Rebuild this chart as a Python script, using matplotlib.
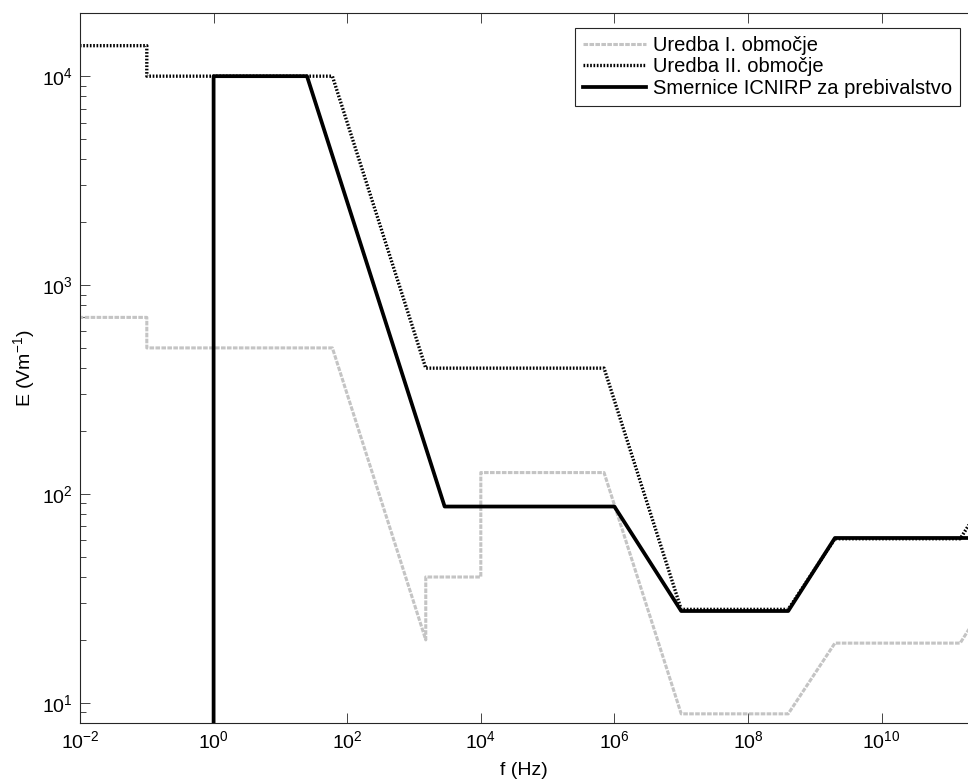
import numpy as np
import matplotlib
matplotlib.use('Agg')
import matplotlib.pyplot as plt
from matplotlib.ticker import FixedLocator, NullLocator, LogLocator, LogFormatterSciNotation, NullFormatter

plt.rcParams['font.family'] = ['Liberation Sans', 'DejaVu Sans']
plt.rcParams['mathtext.fontset'] = 'custom'
plt.rcParams['mathtext.rm'] = 'Liberation Sans'
plt.rcParams['mathtext.it'] = 'Liberation Sans:italic'

# Uredba I. obmocje - break points (f in Hz, E in V/m)
f_obm1 = [1e-3, 0.1, 0.1, 60, 1500, 1500, 1e4, 1e4, 7e5, 1e7, 4e8, 2e9, 1.5e11, 3e11]
e_obm1 = [700, 700, 500, 500, 20, 40, 40, 126.5, 126.5, 8.85, 8.85, 19.3, 19.3, 27.4]

# Uredba II. obmocje
f_obm2 = [1e-3, 0.1, 0.1, 60, 1500, 7e5, 1e7, 4e8, 2e9, 1.5e11, 3e11]
e_obm2 = [14000, 14000, 10000, 10000, 400, 400, 28, 28, 61, 61, 86.5]

# Smernice ICNIRP za prebivalstvo
f_icnirp = [1, 1, 25, 2875, 1e6, 1e7, 4e8, 2e9, 3e11]
e_icnirp = [1, 1e4, 1e4, 87, 87, 27.5, 27.5, 61.5, 61.5]

x_ticks = [1e-2, 1e0, 1e2, 1e4, 1e6, 1e8, 1e10]

fig = plt.figure(figsize=(9.68, 7.8), dpi=100)
ax = fig.add_axes([80 / 968, 1 - 723 / 780, 1 - 80 / 968, (723 - 13.3) / 780])

ax.loglog(f_obm1, e_obm1, color='#c4c4c4', lw=2.2, ls=(0, (1.5, 0.45)),
          label='Uredba I. območje')
ax.loglog(f_obm2, e_obm2, color='black', lw=2.4, ls=(0, (0.5, 0.5)),
          label='Uredba II. območje')
ax.loglog(f_icnirp, e_icnirp, color='black', lw=2.7, ls='-',
          label='Smernice ICNIRP za prebivalstvo')

ax.set_xlim(1e-2, 10 ** (-2 + (968 - 80) / 66.8))
ax.set_ylim(8, 2e4)

ax.xaxis.set_major_locator(FixedLocator(x_ticks))
ax.xaxis.set_major_formatter(LogFormatterSciNotation())
ax.xaxis.set_minor_locator(NullLocator())
ax.yaxis.set_major_locator(LogLocator(base=10))
ax.yaxis.set_minor_locator(LogLocator(base=10, subs=np.arange(2, 10)))
ax.yaxis.set_minor_formatter(NullFormatter())

ax.tick_params(which='both', direction='in', top=True, right=False,
               width=0.6, colors='#262626', labelsize=14, pad=5)
ax.tick_params(which='major', length=7)
ax.tick_params(which='minor', length=4)
for tl in ax.get_xticklabels() + ax.get_yticklabels():
    tl.set_color('black')

ax.spines['right'].set_visible(False)
for side in ['left', 'top', 'bottom']:
    ax.spines[side].set_linewidth(0.8)
    ax.spines[side].set_color('#262626')

ax.set_xlabel('f (Hz)', fontsize=14, labelpad=7)
ax.set_ylabel(r'E (Vm$^{\mathdefault{-1}}$)', fontsize=14, labelpad=4)

leg = ax.legend(loc='upper right', bbox_to_anchor=(960 / 968, 1 - 28 / 780),
                bbox_transform=fig.transFigure, borderaxespad=0,
                fontsize=14.5, handlelength=3.1, handletextpad=0.35,
                labelspacing=0.12, borderpad=0.4, fancybox=False,
                framealpha=1, edgecolor='#262626')
leg.get_frame().set_linewidth(0.8)

fig.savefig('out.png', dpi=100)
